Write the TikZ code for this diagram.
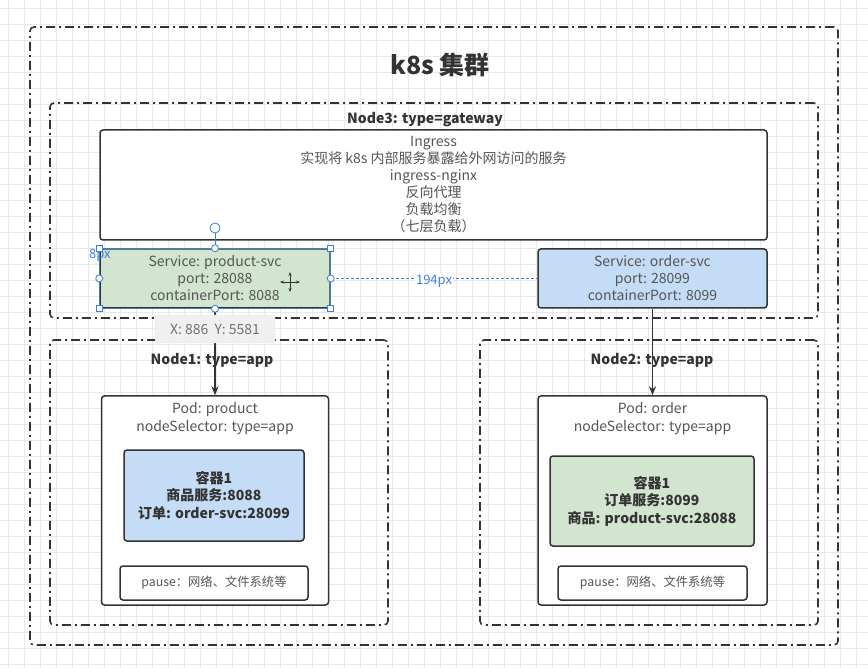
\documentclass[tikz,border=0pt]{standalone}
\usepackage{fontspec}
\setmainfont{Noto Sans CJK SC}
\usetikzlibrary{shapes}
\usetikzlibrary{arrows}
\usetikzlibrary{arrows.meta}
\usetikzlibrary{positioning}
\definecolor{gridc}{HTML}{E8E8E8}
\definecolor{inkc}{HTML}{333333}
\definecolor{textc}{HTML}{555555}
\definecolor{greenc}{HTML}{D2E5CF}
\definecolor{bluec}{HTML}{C4DCF6}
\definecolor{selc}{HTML}{3D7FD6}
\definecolor{tipc}{HTML}{F0F0F0}
\tikzset{
	area_dash/.style = {
		draw=inkc,
		line width=1.6pt,
		rounded corners=4pt,
		dash pattern=on 9pt off 4pt on 2pt off 4pt,
		inner sep=0pt
	},
	box/.style = {
		draw=inkc,
		line width=1.5pt,
		rounded corners=3pt,
		inner sep=0pt,
		align=center,
		font=\fontsize{14}{17}\selectfont,
		text=textc
	},
	box_w/.style = {
		box,
		fill=white
	},
	box_g/.style = {
		box,
		fill=greenc
	},
	box_bl/.style = {
		box,
		fill=bluec
	},
	box_bold/.style = {
		font=\fontsize{14}{17.5}\selectfont\bfseries,
		text=inkc
	},
	box_small/.style = {
		font=\fontsize{12.3}{14}\selectfont
	},
	lbl_b/.style = {
		font=\fontsize{14}{16}\selectfont\bfseries,
		text=inkc,
		inner sep=0pt
	},
	txt_n/.style = {
		align=center,
		font=\fontsize{14}{18}\selectfont,
		text=textc,
		inner sep=0pt
	},
	handle_sq/.style = {
		rectangle,
		draw=selc,
		fill=white,
		line width=0.8pt,
		minimum size=6pt,
		inner sep=0pt
	},
	handle_ci/.style = {
		circle,
		draw=selc,
		fill=white,
		line width=0.8pt,
		minimum size=7pt,
		inner sep=0pt
	},
	overlay_t/.style = {
		text=selc,
		font=\fontsize{13}{14}\selectfont,
		inner sep=1pt
	},
}
\begin{document}
\begin{tikzpicture}[x=1pt, y=-1pt, ->, >={Stealth[length=9pt, width=7pt]}]
\useasboundingbox (0,0) rectangle (868,668);
\fill[white] (0,0) rectangle (868,668);
% grid
\foreach \gx in {8,24,...,868}
	\draw[-, gridc, line width=0.7pt] (\gx,0) -- (\gx,668);
\foreach \gy in {8,24,...,668}
	\draw[-, gridc, line width=0.7pt] (0,\gy) -- (868,\gy);

% cluster and machines
\node [area_dash, minimum width=808pt, minimum height=618pt] (cluster) at (434,336) {};
\node [lbl_b, font=\fontsize{25}{28}\selectfont\bfseries] (cluster_t) at (440,65) {k8s 集群};
\node [area_dash, minimum width=768pt, minimum height=215pt] (node3) at (434,210.5) {};
\node [lbl_b] (node3_t) at (425,120) {Node3: type=gateway};
\node [area_dash, minimum width=338pt, minimum height=285pt] (node1) at (219,482.5) {};
\node [lbl_b] (node1_t) at (212,360) {Node1: type=app};
\node [area_dash, minimum width=338pt, minimum height=285pt] (node2) at (649,482.5) {};
\node [lbl_b] (node2_t) at (652,360) {Node2: type=app};

% gateway
\node [box_w, minimum width=667pt, minimum height=110pt] (ingress) at (433.5,185)
	{Ingress\\实现将 k8s 内部服务暴露给外网访问的服务\\ingress-nginx\\反向代理\\负载均衡\\（七层负载）};
\node [box_g, minimum width=230pt, minimum height=59pt] (svc_p) at (215,278.5)
	{Service: product-svc\\port: 28088\\containerPort: 8088};
\node [box_bl, minimum width=229pt, minimum height=59pt] (svc_o) at (652.5,278.5)
	{Service: order-svc\\port: 28099\\containerPort: 8099};

% pods
\node [box_w, minimum width=227pt, minimum height=209pt] (pod_p) at (215,500.5) {};
\node [txt_n, below=7pt of pod_p.north] (pod_p_t) {Pod: product\\nodeSelector: type=app};
\node [box_bl, box_bold, minimum width=180pt, minimum height=91pt] (ctr_p) at (214,495.5)
	{容器1\\商品服务:8088\\订单: order-svc:28099};
\node [box_w, box_small, minimum width=188pt, minimum height=34pt] (pause_p) at (214,583) {pause：网络、文件系统等};

\node [box_w, minimum width=229pt, minimum height=209pt] (pod_o) at (652.5,500.5) {};
\node [txt_n, below=7pt of pod_o.north] (pod_o_t) {Pod: order\\nodeSelector: type=app};
\node [box_g, box_bold, minimum width=204pt, minimum height=90pt] (ctr_o) at (652,501)
	{容器1\\订单服务:8099\\商品: product-svc:28088};
\node [box_w, box_small, minimum width=189pt, minimum height=34pt] (pause_o) at (652.5,583) {pause：网络、文件系统等};

% connectors
\draw [inkc, line width=1.5pt] (svc_p.south) -- (pod_p.north);
\draw [inkc, line width=1.5pt] (svc_o.south) -- (pod_o.north);

% editor overlay
\draw [-, selc, line width=1pt] (svc_p.south west) rectangle (svc_p.north east);
\draw [-, selc, line width=0.8pt, densely dashed] (svc_p.east) -- (svc_o.west);
\node [overlay_t, fill=white] (gap_t) at (434,281) {194px};
\node [overlay_t, anchor=west] (sp_t) at (88,255) {8px};
\coordinate (rot_c) at (215,228);
\draw [-, selc, line width=0.8pt] (rot_c) -- (svc_p.north);
\node [handle_ci, minimum size=10pt] (rot) at (rot_c) {};
\foreach \a in {north west, north east, south west, south east}
	\node [handle_sq] at (svc_p.\a) {};
\foreach \a in {north, south, east, west}
	\node [handle_ci] at (svc_p.\a) {};
\draw [{Stealth[length=4pt]}-{Stealth[length=4pt]}, inkc, line width=0.7pt] (280,282) -- (300,282);
\draw [{Stealth[length=4pt]}-{Stealth[length=4pt]}, inkc, line width=0.7pt] (290,272) -- (290,292);
\node [rounded corners=3pt, fill=tipc, draw=gray!25, minimum width=120pt, minimum height=28pt,
	text=gray!90!black, font=\fontsize{14}{16}\selectfont] (tip) at (215,329) {X: 886\ \ Y: 5581};
\end{tikzpicture}
\end{document}
